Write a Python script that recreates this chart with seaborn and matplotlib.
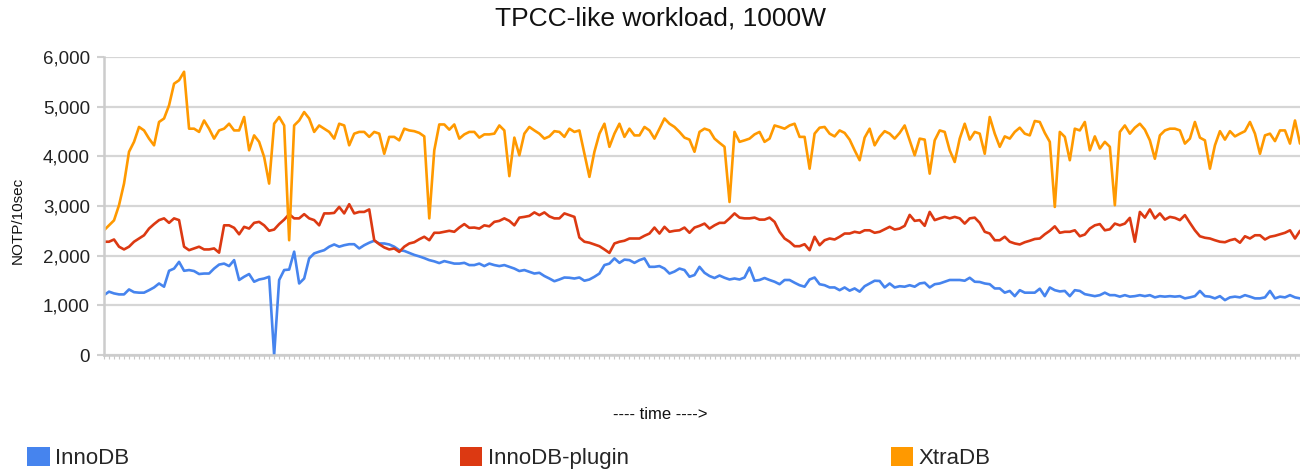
import matplotlib.pyplot as plt
import seaborn as sns
import numpy as np
import pandas as pd
from matplotlib.patches import Patch
from matplotlib.ticker import FuncFormatter

# NOTP per 10 sec (evenly spaced samples over the run)
innodb = [
    1205, 1275, 1240, 1220, 1220, 1320, 1265, 1255, 1255, 1305,
    1360, 1440, 1375, 1695, 1740, 1875, 1695, 1710, 1690, 1630,
    1640, 1640, 1740, 1820, 1840, 1790, 1910, 1510, 1575, 1630,
    1475, 1520, 1540, 1575, 0, 1510, 1710, 1720, 2080, 1440,
    1540, 1945, 2045, 2080, 2110, 2180, 2225, 2180, 2210, 2230,
    2230, 2145, 2210, 2260, 2300, 2245, 2245, 2225, 2180, 2110,
    2095,
    2055, 2015, 1985, 1950, 1910, 1885, 1850, 1890, 1865, 1840,
    1840, 1855, 1810, 1810, 1840, 1790, 1840, 1810, 1790, 1810,
    1775, 1740, 1690, 1710, 1675, 1640, 1655, 1590, 1540, 1485,
    1520, 1560, 1555, 1540, 1560, 1495, 1520, 1575, 1640, 1810,
    1840, 1945, 1855, 1920, 1910, 1855, 1910, 1945, 1775, 1775,
    1790, 1740, 1640, 1680, 1740, 1710, 1575, 1610, 1775, 1655,
    1590, 1550, 1600, 1555, 1520, 1540, 1520, 1560, 1760, 1495,
    1510, 1550, 1510, 1475, 1425, 1510, 1510, 1455, 1405, 1375,
    1520, 1560, 1425, 1405, 1360, 1360, 1305, 1360, 1295, 1340,
    1275, 1385, 1440, 1495, 1490, 1360, 1440, 1360, 1385, 1375,
    1405, 1375, 1440, 1455, 1360, 1425, 1440, 1475, 1510, 1510,
    1510, 1495, 1555, 1475, 1470, 1440, 1425, 1340, 1340, 1255,
    1290, 1185, 1305, 1255, 1255, 1255, 1335, 1185, 1360, 1305,
    1280, 1290, 1185, 1305, 1290, 1225, 1205, 1185, 1205, 1255,
    1205, 1205, 1175, 1205, 1175, 1185, 1205, 1185, 1205, 1160,
    1185, 1175, 1185, 1175, 1185, 1140, 1160, 1185, 1290, 1185,
    1175, 1140, 1185, 1105, 1160, 1175, 1160, 1205, 1175, 1140,
    1140, 1160, 1290, 1140, 1175, 1160, 1205, 1160, 1140,
]

innodb_plugin = [
    2280, 2280, 2325, 2180, 2125, 2180, 2280, 2345, 2410, 2545,
    2635, 2715, 2750, 2660, 2750, 2715, 2180, 2110, 2145, 2180,
    2125, 2125, 2145, 2060, 2610, 2610, 2560, 2430, 2580, 2545,
    2660, 2680, 2610, 2500, 2525, 2635, 2725, 2835, 2750, 2750,
    2835, 2750, 2715, 2610, 2850, 2850, 2860, 2980, 2850, 3035,
    2850, 2880, 2880, 2930, 2310, 2230, 2165, 2125, 2145, 2075,
    2180,
    2245, 2270, 2330, 2380, 2310, 2460, 2460, 2480, 2500, 2480,
    2565, 2635, 2560, 2565, 2545, 2610, 2590, 2680, 2700, 2750,
    2700, 2610, 2765, 2780, 2800, 2870, 2815, 2870, 2790, 2750,
    2750, 2850, 2815, 2780, 2365, 2280, 2260, 2225, 2190, 2125,
    2055, 2245, 2280, 2300, 2345, 2345, 2345, 2400, 2445, 2565,
    2445, 2580, 2480, 2500, 2510, 2565, 2460, 2565, 2600, 2645,
    2545, 2610, 2660, 2660, 2750, 2850, 2765, 2750, 2750, 2765,
    2725, 2725, 2765, 2680, 2480, 2345, 2280, 2190, 2190, 2230,
    2110, 2380, 2210, 2310, 2345, 2325, 2380, 2445, 2445, 2480,
    2460, 2510, 2510, 2460, 2480, 2530, 2580, 2525, 2545, 2600,
    2820, 2700, 2715, 2600, 2880, 2715, 2750, 2780, 2750, 2780,
    2750, 2645, 2750, 2765, 2660, 2480, 2445, 2310, 2310, 2380,
    2280, 2245, 2225, 2270, 2300, 2335, 2345, 2430, 2500, 2590,
    2460, 2480, 2480, 2510, 2390, 2425, 2545, 2610, 2635, 2510,
    2530, 2645, 2610, 2645, 2760, 2280, 2880, 2765, 2930, 2750,
    2850, 2725, 2780, 2760, 2715, 2815, 2660, 2510, 2390, 2360,
    2345, 2310, 2280, 2270, 2310, 2335, 2260, 2390, 2345, 2410,
    2410, 2325, 2380, 2400, 2430, 2460, 2510, 2345, 2500,
]

xtradb = [
    2510, 2610, 2710, 3015, 3450, 4090, 4290, 4590, 4520, 4355,
    4220, 4690, 4760, 5025, 5460, 5530, 5700, 4555, 4555, 4490,
    4720, 4555, 4355, 4520, 4555, 4655, 4520, 4520, 4790, 4120,
    4420, 4290, 3985, 3450, 4655, 4790, 4620, 2310, 4620, 4720,
    4890, 4760, 4490, 4620, 4555, 4490, 4355, 4655, 4620, 4220,
    4455, 4490, 4490, 4390, 4490, 4455, 4050, 4390, 4390, 4320,
    4555,
    4520, 4505, 4470, 4400, 2750, 4120, 4640, 4640, 4535, 4640,
    4355, 4440, 4490, 4490, 4375, 4440, 4440, 4455, 4620, 4520,
    3600, 4375, 4020, 4455, 4590, 4520, 4455, 4355, 4400, 4505,
    4490, 4390, 4555, 4490, 4520, 4050, 3585, 4090, 4455, 4655,
    4190, 4455, 4655, 4390, 4555, 4420, 4420, 4590, 4520, 4355,
    4555, 4760, 4655, 4590, 4490, 4375, 4335, 4090, 4490, 4555,
    4520, 4355, 4270, 4190, 3080, 4490, 4290, 4320, 4355, 4440,
    4490, 4290, 4355, 4620, 4590, 4555, 4620, 4655, 4390, 4390,
    3750, 4455, 4575, 4590, 4455, 4400, 4520, 4470, 4335, 4120,
    3920, 4375, 4555, 4220, 4390, 4505, 4455, 4355, 4470, 4620,
    4320, 4020, 4355, 4335, 3650, 4320, 4520, 4490, 4120, 3885,
    4355, 4655, 4335, 4490, 4455, 4050, 4790, 4455, 4190, 4400,
    4355, 4490, 4575, 4455, 4420, 4710, 4690, 4470, 4290, 2980,
    4490, 4390, 3920, 4555, 4520, 4690, 4120, 4400, 4155, 4290,
    4190, 3015, 4490, 4620, 4455, 4575, 4655, 4535, 4320, 3950,
    4420, 4520, 4555, 4555, 4520, 4255, 4355, 4690, 4375, 4320,
    3750, 4220, 4505, 4335, 4505, 4400, 4455, 4505, 4690, 4455,
    4050, 4420, 4455, 4305, 4520, 4520, 4255, 4720, 4255,
]

engines = ["InnoDB", "InnoDB-plugin", "XtraDB"]
colors = ["#4684ee", "#dc3912", "#ff9900"]
yticks = [0, 1000, 2000, 3000, 4000, 5000, 6000]

frames = []
for name, vals in zip(engines, [innodb, innodb_plugin, xtradb]):
    frames.append(pd.DataFrame({
        "time": np.linspace(0, 1, len(vals)),
        "notp": vals,
        "engine": name,
    }))
df = pd.concat(frames, ignore_index=True)

sns.set_theme(style="white")
plt.rcParams["font.family"] = ["Liberation Sans", "DejaVu Sans"]

fig = plt.figure(figsize=(13, 4.74), dpi=100)
ax = fig.add_axes([0.08, 0.251, 0.92, 0.629])

sns.lineplot(data=df, x="time", y="notp", hue="engine", hue_order=engines,
             palette=colors, linewidth=1.9, legend=False, ax=ax)

ax.set_xlim(0, 1)
ax.set_ylim(0, 6000)
ax.set_yticks(yticks)
ax.yaxis.set_major_formatter(FuncFormatter(lambda v, p: f"{v:,.0f}"))
ax.set_xticks(np.linspace(0, 1, len(innodb)))
ax.yaxis.grid(True, color="#d6d6d6", linewidth=1.6)
ax.set_axisbelow(True)

for side in ["top", "right"]:
    ax.spines[side].set_visible(False)
for side in ["left", "bottom"]:
    ax.spines[side].set_color("#cccccc")
    ax.spines[side].set_linewidth(1.8)

ax.tick_params(axis="y", left=True, length=5, width=1.5, color="#d0d0d0",
               pad=5, labelsize=13.5, labelcolor="#222222")
ax.tick_params(axis="x", bottom=True, length=3, width=0.8, color="#c8c8c8",
               labelbottom=False)

ax.set_ylabel("NOTP/10sec", fontsize=11, color="#111111")
ax.yaxis.set_label_coords(-0.066, 0.45)
ax.set_xlabel("---- time ---->", fontsize=12, color="#111111")
ax.xaxis.set_label_coords(0.465, -0.175)

fig.text(0.508, 0.962, "TPCC-like workload, 1000W", ha="center", va="center",
         fontsize=19, color="#111111")

# legend entries spread along the bottom
for name, color, xpos in zip(engines, colors, [0.021, 0.354, 0.685]):
    fig.legend(handles=[Patch(facecolor=color, edgecolor="none", label=name)],
               loc="center left", bbox_to_anchor=(xpos, 0.034), frameon=False,
               fontsize=16, handlelength=1.0, handleheight=1.0,
               handletextpad=0.25, borderpad=0, borderaxespad=0)

fig.savefig("out.png", dpi=100)
